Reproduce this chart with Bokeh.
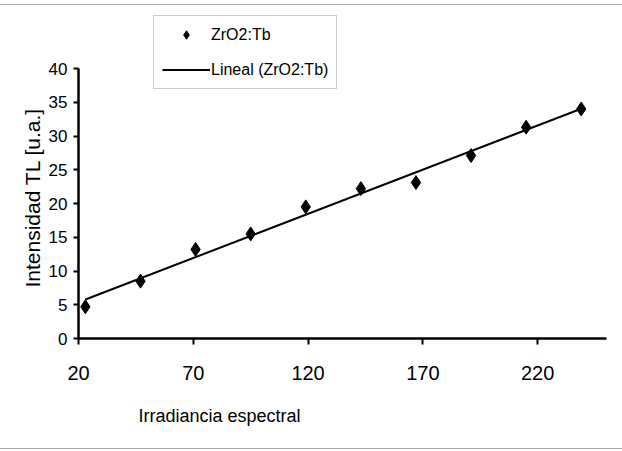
import numpy as np
from bokeh.plotting import figure
from bokeh.models import (ColumnDataSource, FixedTicker, Legend, LegendItem,
                          Range1d, Title)
from bokeh.embed import file_html
from bokeh.resources import INLINE

# Measured series: spectral irradiance vs. TL intensity of ZrO2:Tb
irradiancia = [23, 47, 71, 95, 119, 143, 167, 191, 215, 239]
intensidad = [4.7, 8.5, 13.2, 15.5, 19.5, 22.2, 23.1, 27.1, 31.3, 34.0]

x_ticks = [20, 70, 120, 170, 220]
y_ticks = [0, 5, 10, 15, 20, 25, 30, 35, 40]

serie = "ZrO2:Tb"
tendencia = "Lineal (ZrO2:Tb)"
titulo_x = "Irradiancia espectral"
titulo_y = "Intensidad TL [u.a.]"

# Least-squares linear trend through the measured points
pendiente, ordenada = np.polyfit(irradiancia, intensidad, 1)
x_fit = [min(irradiancia), max(irradiancia)]
y_fit = [pendiente * v + ordenada for v in x_fit]

SANS = "Liberation Sans, Arial, sans-serif"

H = 445             # canvas height
FRAME_H = 333       # plot frame height (frame reaches the canvas top)
AXIS_H = 270        # pixels covered by the 0..40 axis
y_top = 40 * FRAME_H / AXIS_H   # headroom above 40 keeps the legend inside the frame

p = figure(width=622, height=H, output_backend="svg", toolbar_location=None,
           x_range=Range1d(20, 250), y_range=Range1d(0, y_top),
           min_border_left=78, min_border_right=16,
           min_border_top=0, min_border_bottom=H - FRAME_H)
p.outline_line_color = None
p.grid.grid_line_color = None
p.background_fill_color = "white"
p.border_fill_color = "white"
# thin grey rules above and below the chart area
p.styles = {"margin-top": "4px",
            "border-top": "1px solid #a8a8a8",
            "border-bottom": "1px solid #a8a8a8"}

src = ColumnDataSource(dict(x=irradiancia, y=intensidad))
fit = ColumnDataSource(dict(x=x_fit, y=y_fit))

r_line = p.line("x", "y", source=fit, line_color="black", line_width=2)
r_pts = p.scatter("x", "y", source=src, marker="diamond", size=14,
                  fill_color="black", line_color="black")

# axes
xa = p.xaxis[0]
xa.ticker = FixedTicker(ticks=x_ticks)
xa.axis_line_width = 2.5
xa.axis_line_color = "black"
xa.major_tick_line_width = 2
xa.major_tick_out = 6
xa.major_tick_in = 0
xa.minor_tick_out = 0
xa.minor_tick_in = 0
xa.major_label_text_font = SANS
xa.major_label_text_font_size = "20px"
xa.major_label_text_color = "black"
xa.major_label_standoff = 21

ya = p.yaxis[0]
ya.ticker = FixedTicker(ticks=y_ticks)
ya.bounds = (0, 40)
ya.axis_line_width = 2.5
ya.axis_line_color = "black"
ya.major_tick_line_width = 2
ya.major_tick_out = 5
ya.major_tick_in = 0
ya.minor_tick_out = 0
ya.minor_tick_in = 0
ya.major_label_text_font = SANS
ya.major_label_text_font_size = "17px"
ya.major_label_text_color = "black"
ya.major_label_standoff = 6

# axis titles
p.add_layout(Title(text=titulo_x, align="left", offset=60, standoff=43,
                   text_font=SANS, text_font_size="18px",
                   text_font_style="normal", text_color="black"), "below")
p.add_layout(Title(text=titulo_y, align="left", offset=51, standoff=4,
                   text_font=SANS, text_font_size="21px",
                   text_font_style="normal", text_color="black"), "left")

# legend
legend = Legend(items=[LegendItem(label=serie, renderers=[r_pts]),
                       LegendItem(label=tendencia, renderers=[r_line])],
                location=(75, 249), orientation="vertical",
                label_text_font=SANS, label_text_font_size="16px",
                label_text_color="black",
                glyph_width=48, glyph_height=21, label_height=21,
                label_standoff=1, spacing=14, padding=8, margin=0,
                border_line_color="#9a9a9a", border_line_width=1,
                background_fill_alpha=0)
p.add_layout(legend)

open("out.html", "w").write(file_html(p, INLINE))
